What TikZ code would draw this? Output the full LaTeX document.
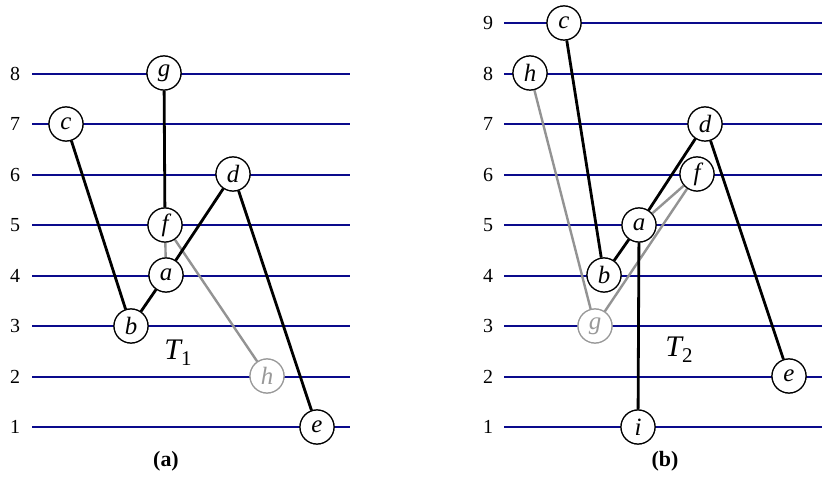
\documentclass[tikz,border=0pt]{standalone}
\usepackage{fontspec}
\setmainfont{Liberation Serif}
\begin{document}
\begin{tikzpicture}[x=1bp,y=-1bp,
  lvl/.style={draw={rgb,255:red,10;green,10;blue,140},line width=1.6bp},
  vtx/.style={circle,draw,fill=white,line width=1.2bp,minimum size=34bp,inner sep=0pt,font=\fontsize{25}{25}\selectfont\itshape},
  gvtx/.style={vtx,draw=gray!80,text=gray!80},
  blk/.style={line width=2.8bp},
  gry/.style={line width=2.4bp,draw=gray!85},
  lab/.style={font=\fontsize{20}{20}\selectfont,anchor=center},
  captxt/.style={font=\fontsize{22}{22}\selectfont\bfseries},
  tt/.style={font=\fontsize{30}{30}\selectfont}]
\useasboundingbox (0,0) rectangle (822,477);
% panel (a)
\foreach \k in {1,...,8}{
  \pgfmathsetmacro{\yy}{round(427-50.5*(\k-1))}
  \node[lab] (la\k) at (15,\yy) {\k};
  \coordinate (sa\k) at (32,\yy);
  \coordinate (ea\k) at (350,\yy);
  \draw[lvl] (sa\k) -- (ea\k);
}
\node[vtx] (ag) at (164,73) {g};
\node[vtx] (ac) at (66,124) {c};
\node[vtx] (ad) at (233,174) {d};
\node[vtx] (af) at (165,225) {f};
\node[vtx] (aa) at (166,275) {a};
\node[vtx] (ab) at (131,326) {b};
\node[gvtx] (ah) at (267,376) {h};
\node[vtx] (ae) at (317,427) {e};
\node[tt] (t1) at (178,353) {\itshape T\raisebox{-6pt}{\fontsize{21}{21}\selectfont\upshape 1}};
\node[captxt] (capa) at (166,461) {(a)};
% panel (b)
\foreach \k in {1,...,9}{
  \pgfmathsetmacro{\yy}{round(427-50.5*(\k-1))}
  \node[lab] (lb\k) at (488,\yy) {\k};
  \coordinate (sb\k) at (504,\yy);
  \coordinate (eb\k) at (822,\yy);
  \draw[lvl] (sb\k) -- (eb\k);
}
\node[vtx] (bc) at (564,23) {c};
\node[vtx] (bh) at (530,73) {h};
\node[vtx] (bd) at (705,124) {d};
\node[vtx] (bf) at (697,174) {f};
\node[vtx] (ba) at (639,225) {a};
\node[vtx] (bb) at (604,275) {b};
\node[gvtx] (bg) at (595,326) {g};
\node[vtx] (be) at (789,376) {e};
\node[vtx] (bi) at (638,427) {i};
\node[tt] (t2) at (679,350) {\itshape T\raisebox{-6pt}{\fontsize{21}{21}\selectfont\upshape 2}};
\node[captxt] (capb) at (665,461) {(b)};
% edges (a)
\draw[blk] (ag) -- (af);
\draw[gry] (af) -- (aa);
\draw[gry] (af) -- (ah);
\draw[blk] (ac) -- (ab);
\draw[blk] (ab) -- (aa);
\draw[blk] (aa) -- (ad);
\draw[blk] (ad) -- (ae);
% edges (b)
\draw[blk] (bc) -- (bb);
\draw[gry] (bh) -- (bg);
\draw[gry] (bg) -- (bf);
\draw[gry] (ba) -- (bf);
\draw[blk] (bb) -- (ba);
\draw[blk] (ba) -- (bd);
\draw[blk] (ba) -- (bi);
\draw[blk] (bd) -- (be);
% redraw nodes on top of connectors
\foreach \n/\t in {ag/g,ac/c,ad/d,af/f,aa/a,ab/b,ae/e,bc/c,bh/h,bd/d,bf/f,ba/a,bb/b,be/e,bi/i}{
  \node[vtx] at (\n) {\t};
}
\node[gvtx] at (ah) {h};
\node[gvtx] at (bg) {g};
\end{tikzpicture}
\end{document}
